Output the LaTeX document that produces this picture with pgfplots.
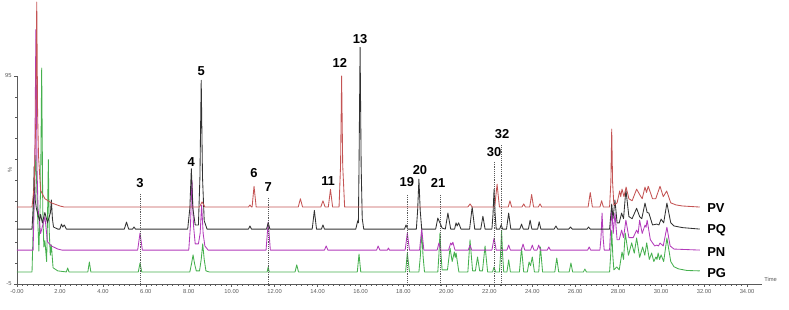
\documentclass[border=0pt]{standalone}
\usepackage{pgfplots}
\pgfplotsset{compat=1.18}
\usepackage{fontspec}
\setmainfont{Liberation Sans}
\definecolor{cPV}{RGB}{196,84,84}
\definecolor{cPQ}{RGB}{50,50,50}
\definecolor{cPN}{RGB}{178,58,186}
\definecolor{cPG}{RGB}{70,176,78}
\definecolor{axg}{RGB}{90,90,90}
\begin{document}
\begin{tikzpicture}
\path[use as bounding box] (0,0) rectangle (789bp,310bp);
\begin{axis}[
  at={(17bp,26bp)}, anchor=south west,
  x=21.47bp, y=2.08bp,
  xmin=0, xmax=34.7, ymin=-5, ymax=95,
  clip=false,
  axis x line*=bottom, axis y line*=left,
  axis line style={axg, line width=0.6bp},
  xtick={0,2,...,34},
  xticklabels={-0.00,2.00,4.00,6.00,8.00,10.00,12.00,14.00,16.00,18.00,20.00,22.00,24.00,26.00,28.00,30.00,32.00,34.00},
  minor x tick num=7,
  ytick={-5,95}, yticklabels={-5,95},
  minor ytick={5,15,...,85},
  tick align=outside,
  major tick length=3bp, minor tick length=1.6bp,
  tick style={axg, line width=0.5bp},
  ticklabel style={font=\fontsize{5.8}{6}\selectfont, text=axg},
  xticklabel style={yshift=1bp},
  yticklabel style={xshift=1bp},
  every axis plot/.append style={line width=0.85bp, mark=none, line join=round},
]
% PG (green), offset 0.8
\addplot[cPG] table[y expr=\thisrow{h}+0.8] {
t h
0 0
0.70 0
0.75 20
0.80 40
0.88 56
0.95 30
1.02 10
1.10 40
1.15 98
1.20 30
1.25 12
1.30 15
1.38 5
1.42 25
1.46 54
1.50 20
1.55 8
1.60 13
1.68 2
1.90 0.5
2.30 0
2.36 1.9
2.42 0
3.30 0
3.37 4.8
3.44 0
5.65 0
5.73 4.3
5.81 0
8.05 0
8.13 4
8.20 8.2
8.27 4
8.35 0.5
8.50 0.5
8.58 6
8.65 13.5
8.72 6
8.80 0.5
8.95 0
11.65 0
11.70 2.4
11.75 0
12.95 0
13.03 3.4
13.11 0
15.85 0
15.93 8.6
16.01 0
18.10 0
18.18 9.1
18.28 0
18.72 0
18.79 8
18.85 20
18.91 8
18.98 0
19.60 0
19.65 8
19.70 18.7
19.75 8
19.80 1
20.05 1
20.17 11.5
20.27 5
20.37 9.6
20.41 7
20.45 9.1
20.58 0
21.00 0
21.10 15.4
21.22 0.5
21.35 0.5
21.45 7.2
21.55 0.5
21.68 0.5
21.80 12.5
21.92 0
22.15 0
22.22 2.4
22.29 0
22.47 0
22.52 8
22.57 20
22.62 8
22.67 0
22.82 0
22.90 5.8
22.98 0
23.40 0
23.50 11.5
23.60 0
23.77 0
23.85 4.8
23.92 3
24.00 7.2
24.10 0
24.30 0
24.38 12
24.48 0
25.05 0
25.14 6.7
25.23 0
25.72 0
25.80 4.3
25.88 0
26.38 0
26.45 1.4
26.52 0
27.60 0
27.65 8
27.70 20
27.75 8
27.80 1
27.93 2.4
28.05 1
28.18 9.6
28.25 6
28.33 18.7
28.48 8
28.63 14
28.75 9
28.86 16.3
29.00 7
29.14 12
29.24 8
29.33 14
29.45 6
29.56 9.1
29.66 5
29.76 7.2
29.81 6
29.86 9.1
29.93 6
30.00 8.2
30.12 5
30.27 16.3
30.45 5
30.60 2.5
30.80 1.5
31.20 0.7
31.80 0.5
};
% PN (purple), offset 11.3
\addplot[cPN] table[y expr=\thisrow{h}+11.3] {
t h
0 0
0.75 0
0.82 30
0.88 106
0.93 40
0.98 20
1.10 8
1.30 16
1.42 4
1.60 2
1.90 0.5
2.10 0
5.62 0
5.73 8.2
5.84 0
8.00 0
8.08 12
8.15 33.6
8.22 12
8.30 3
8.45 3
8.53 8
8.60 21.6
8.67 8
8.75 2
8.90 0
11.60 0
11.70 13.5
11.80 0
14.32 0
14.40 2
14.48 0
16.75 0
16.82 2
16.90 0
17.25 0
17.30 1
17.35 0
18.08 0
18.18 8.2
18.28 0
18.75 0
18.85 10
18.95 0
19.57 0
19.65 3.4
19.73 0
20.10 0
20.20 3.4
20.25 2.5
20.30 3.8
20.40 0
21.02 0
21.10 2.4
21.18 0
22.12 0
22.22 5.8
22.32 0
22.82 0
22.90 2.4
22.98 0
23.49 0
23.57 2.9
23.65 0
23.92 0
24.00 2.4
24.08 0
24.22 0
24.30 2.4
24.38 0
24.70 0
24.77 1.5
24.84 0
26.58 0
26.65 1.5
26.72 0
27.15 0
27.20 6
27.25 17.8
27.30 6
27.35 0
27.60 0
27.70 20
27.77 8
27.85 17.8
27.95 5
28.05 5
28.16 9.6
28.25 6
28.36 14.4
28.50 6
28.70 6
28.86 9.6
28.93 8
29.00 14.4
29.12 8
29.25 12
29.30 11
29.35 14.4
29.50 5
29.70 2
29.80 2.4
29.88 2
29.95 3.4
30.10 2
30.27 11
30.42 2
30.60 0.5
31.80 0
};
% PQ (black), offset 21.4
\addplot[cPQ] table[y expr=\thisrow{h}+21.4] {
t h
0 0
0.70 0
0.76 12
0.80 30
0.85 14
0.90 10
1.05 4
1.10 7
1.18 3
1.30 8
1.42 3
1.56 8
1.60 14
1.65 5
1.70 1
1.90 0
2.00 0
2.07 2.4
2.13 1
2.20 2
2.30 0
5.00 0
5.10 3.4
5.20 0
5.38 0
5.45 1
5.52 0
7.95 0
8.05 10
8.12 29
8.19 10
8.30 2
8.45 2
8.52 25
8.58 71.5
8.64 25
8.72 4
8.85 0
10.78 0
10.85 1.5
10.92 0
11.62 0
11.70 3
11.78 0
13.75 0
13.85 9
13.95 0
14.18 0
14.25 2
14.32 0
15.78 0
15.87 4
15.90 3
15.93 30
15.98 87.4
16.03 30
16.08 5
16.15 0
18.05 0
18.12 2
18.20 0
18.60 0
18.66 9
18.72 24
18.78 9
18.85 0
19.50 0
19.60 5.3
19.70 3
19.80 0.5
19.95 0
20.07 7.7
20.20 0
20.38 0
20.45 3
20.50 1.5
20.57 3
20.68 0
21.08 0
21.20 10.6
21.32 0
21.60 0
21.70 6.2
21.80 0
22.12 0
22.17 7
22.22 19.2
22.27 7
22.32 0
22.48 0
22.55 2
22.62 0
22.80 0
22.90 7.7
23.00 0
23.42 0
23.50 2.4
23.58 0
23.82 0
23.90 4.3
23.98 0
24.25 0
24.32 3.5
24.40 0
25.02 0
25.10 1.5
25.18 0
25.70 0
25.78 1
25.86 0
26.55 0
26.62 1
26.70 0
27.60 0
27.70 12
27.76 5
27.85 14
27.95 3
28.05 3
28.16 7.7
28.25 5
28.36 19
28.50 6
28.65 5
28.86 10
29.00 6
29.10 5
29.25 12.5
29.35 8
29.43 7.7
29.60 2
29.80 2.4
29.90 2
30.00 4.8
30.12 3
30.27 12.5
30.45 3
30.60 1.5
31.00 0.7
31.80 0
};
% PV (red), offset 32
\addplot[cPV] table[y expr=\thisrow{h}+32] {
t h
0 0
0.70 0
0.80 10
0.87 40
0.92 98.6
0.96 45
1.00 25
1.10 8
1.30 4
1.60 2
2.00 0.5
2.20 0
8.50 0
8.62 2.5
8.75 0
10.78 0
10.85 1
10.92 0
10.95 0
11.04 10
11.14 0
13.10 0
13.20 4
13.30 0
14.15 0
14.25 3
14.35 0
14.50 0
14.60 8.5
14.70 0
15.00 0
15.07 20
15.12 63
15.17 20
15.26 0
21.00 0
21.10 1.5
21.20 0
22.25 0
22.36 11
22.47 0
22.88 0
22.96 3
23.04 0
23.52 0
23.60 1.5
23.68 0
23.88 0
23.97 6
24.06 0
24.28 0
24.36 1.5
24.44 0
26.60 0
26.70 7
26.80 0
27.15 0
27.23 3
27.31 0
27.60 0
27.66 12
27.70 37.5
27.74 12
27.80 1
27.95 2
28.07 7.7
28.12 5
28.18 8.6
28.27 5
28.37 9.6
28.50 4
28.65 3
28.86 8.6
29.00 6
29.12 4
29.25 9.6
29.32 7
29.40 10
29.60 4
29.75 4
29.95 10
30.10 5
30.26 7.7
30.45 2
30.70 1
31.00 0.5
31.80 0
};
% dotted marker lines
\addplot[axg, densely dotted, line width=0.6bp] coordinates {(5.73,38.3) (5.73,-6)};
\addplot[axg, densely dotted, line width=0.6bp] coordinates {(11.70,36.3) (11.70,-6)};
\addplot[axg, densely dotted, line width=0.6bp] coordinates {(18.18,37.8) (18.18,-6)};
\addplot[axg, densely dotted, line width=0.6bp] coordinates {(19.70,37.8) (19.70,-6)};
\addplot[axg, densely dotted, line width=0.6bp] coordinates {(22.22,53.7) (22.22,-6)};
\addplot[axg, densely dotted, line width=0.6bp] coordinates {(22.57,61.8) (22.57,-6)};
% peak labels
\begin{scope}[every node/.style={font=\fontsize{13}{13}\selectfont\bfseries, inner sep=0pt}]
\node at (axis cs:5.73,43.6) {3};
\node at (axis cs:8.12,53.7) {4};
\node at (axis cs:8.58,97.4) {5};
\node at (axis cs:11.04,48.4) {6};
\node at (axis cs:11.70,41.6) {7};
\node at (axis cs:14.49,44.5) {11};
\node at (axis cs:15.04,101.3) {12};
\node at (axis cs:15.98,112.8) {13};
\node at (axis cs:18.16,44.0) {19};
\node at (axis cs:18.77,49.8) {20};
\node at (axis cs:19.61,43.6) {21};
\node at (axis cs:22.22,58.5) {30};
\node at (axis cs:22.59,67.1) {32};
\node[anchor=west] at (axis cs:32.14,31.5) {PV};
\node[anchor=west] at (axis cs:32.14,21.0) {PQ};
\node[anchor=west] at (axis cs:32.14,10.4) {PN};
\node[anchor=west] at (axis cs:32.14,0.3) {PG};
\end{scope}
\node[anchor=west, font=\fontsize{5.8}{6}\selectfont, text=axg, inner sep=1pt] at (axis cs:34.75,-2.6) {Time};
\node[rotate=90, font=\fontsize{5.8}{6}\selectfont, text=axg, inner sep=0pt] at (axis cs:-0.33,49.8) {\%};
\end{axis}
\end{tikzpicture}
\end{document}
